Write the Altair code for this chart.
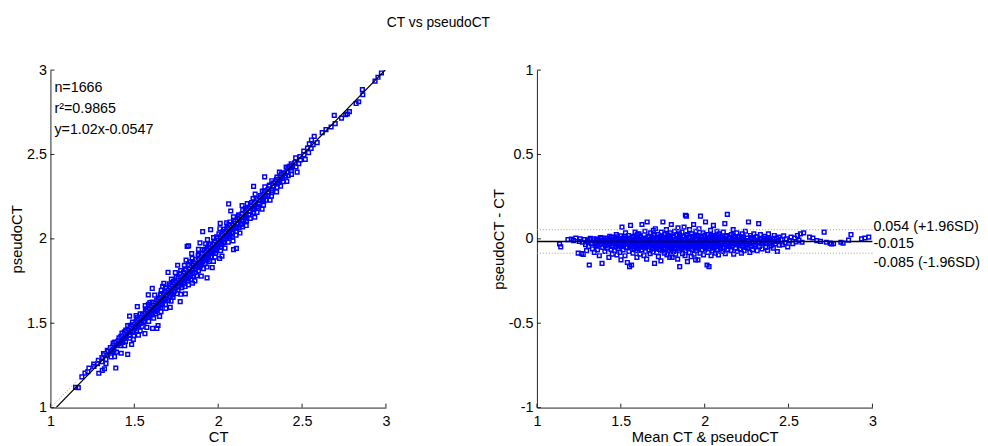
import altair as alt
import pandas as pd

# ---------------- data (Bland-Altman pairs, in thousandths) ----------------
MEAN_CT = [
    1135, 1142, 1185,
    1205, 1218, 1232, 1246,
    1252, 1258, 1265, 1271, 1276, 1283, 1290, 1296,
    1302, 1308, 1312, 1318, 1325, 1331, 1338, 1342, 1348,
    1352, 1356, 1361, 1367, 1372, 1378, 1383, 1388, 1392, 1397,
    1402, 1405, 1411, 1415, 1420, 1424, 1429, 1434, 1438, 1442, 1446, 1449,
    1451, 1454, 1458, 1462, 1466, 1469, 1473, 1477, 1481, 1485, 1488, 1492, 1495, 1498,
    1501, 1504, 1507, 1511, 1514, 1518, 1521, 1525, 1528, 1532, 1535, 1539, 1542, 1545, 1548, 1550,
    1552, 1555, 1558, 1561, 1564, 1567, 1570, 1573, 1576, 1579, 1582, 1585, 1588, 1591, 1594, 1596, 1598, 1599,
    1602, 1605, 1608, 1611, 1614, 1617, 1620, 1623, 1626, 1629, 1632, 1635, 1638, 1641, 1644, 1646, 1648, 1650,
    1651, 1654, 1657, 1660, 1663, 1666, 1669, 1672, 1675, 1678, 1681, 1684, 1687, 1690, 1692, 1694, 1696, 1697, 1698, 1699,
    1701, 1703, 1706, 1709, 1712, 1715, 1718, 1721, 1724, 1727, 1730, 1733, 1736, 1739, 1741, 1743, 1745, 1747, 1748, 1749,
    1751, 1754, 1757, 1760, 1763, 1766, 1769, 1772, 1775, 1778, 1781, 1784, 1787, 1790, 1792, 1794, 1796, 1797, 1798, 1799,
    1801, 1803, 1806, 1809, 1812, 1815, 1818, 1821, 1824, 1827, 1830, 1833, 1836, 1839, 1841, 1843, 1845, 1847, 1848, 1849,
    1851, 1853, 1856, 1859, 1862, 1865, 1868, 1871, 1874, 1877, 1880, 1883, 1885, 1887, 1889, 1891, 1893, 1895, 1897, 1899,
    1901, 1904, 1907, 1910, 1913, 1916, 1919, 1922, 1925, 1928, 1931, 1934, 1937, 1940, 1942, 1944, 1946, 1947, 1948, 1949,
    1951, 1954, 1957, 1960, 1963, 1966, 1969, 1972, 1975, 1978, 1981, 1984, 1987, 1990, 1993, 1995, 1997, 1999,
    2002, 2005, 2008, 2011, 2014, 2017, 2020, 2023, 2026, 2029, 2032, 2035, 2038, 2041, 2044, 2046, 2048, 2049,
    2052, 2055, 2058, 2061, 2064, 2067, 2070, 2073, 2076, 2079, 2082, 2085, 2088, 2092, 2095, 2098,
    2102, 2105, 2108, 2111, 2114, 2117, 2120, 2123, 2126, 2129, 2132, 2135, 2138, 2141, 2145, 2148,
    2152, 2156, 2159, 2163, 2166, 2170, 2173, 2177, 2180, 2184, 2187, 2191, 2194, 2198,
    2203, 2207, 2211, 2215, 2219, 2223, 2227, 2231, 2235, 2239, 2243, 2246, 2249,
    2253, 2257, 2261, 2265, 2269, 2273, 2277, 2281, 2285, 2289, 2293, 2297,
    2303, 2308, 2313, 2318, 2322, 2327, 2332, 2337, 2342, 2347,
    2353, 2358, 2364, 2369, 2375, 2380, 2386, 2391, 2396,
    2403, 2409, 2415, 2421, 2427, 2433, 2439, 2445,
    2455, 2463, 2471, 2479, 2487, 2495,
    2505, 2515, 2525, 2535, 2545,
    2553, 2562, 2571, 2580, 2590,
    2625, 2645, 2668, 2690,
    2712, 2725, 2748, 2755, 2768,
    2812, 2825, 2858, 2872,
    2935, 2955, 2978,
]
DIFF = [
    -30, -48, -5,
    -2, -10, 5, -85,
    -15, 0, -88, -20, -92, -5, -35, -70,
    -10, -45, -155, 3, -25, -60, -12, -80, -30,
    -40, -2, -65, -18, -100, 8, -30, -145, -50, -10,
    -20, -75, 5, -35, -55, -8, -110, 15, -28, -62, -15, -90,
    -45, 10, -22, -70, -5, -38, 25, -95, -12, -58, 0, -30, -80, 18,
    -125, -40, 70, -15, -65, 5, -28, -100, 35, -50, -8, -140, -20, 20, -75, -35,
    -165, -10, 80, -48, -155, 0, -25, -85, 15, -60, -32, 40, -5, -70, -18, -110, 28, -42,
    -20, -55, 30, -8, -90, 10, -38, -65, 85, -15, -48, 2, -100, -28, 45, -5, -75, -33,
    -12, -120, 100, -45, -22, 15, -68, -3, -88, 35, -30, -55, 8, -15, -78, 50, -40, -8, -60, 20,
    -145, -25, 60, -50, 0, -80, -18, 25, -105, -35, -62, 12, -8, -130, 40, -45, -20, -72, 5, -28,
    100, -38, -10, -85, 25, -58, -22, 55, -95, -5, -42, 18, -68, -15, -110, 35, -30, -52, 8, -78,
    85, -20, -110, -48, 10, -75, -32, 45, -8, -90, -60, 20, -25, -120, 65, -40, -2, -70, -15, 30,
    -165, -35, 15, -60, -12, 40, -88, -25, -48, 70, -5, -100, 140, -70, -18, 135, -42, 25, -135, -55,
    -28, 10, -80, 55, -45, -15, -105, 30, -62, -2, -35, 85, -90, -20, -52, 15, -125, -40, 45, -8,
    -70, 20, -30, -125, -50, 60, -12, -85, 135, -40, 0, -65, -22, 35, -95, -5, -48, 12,
    -35, 100, -60, -15, -155, 25, -80, -45, -165, 5, -28, 50, -100, -10, -55, 20, -72, -38,
    80, -20, -48, 15, -85, -5, -35, 45, -65, -12, -95, 30, -42, 0, -58, -25,
    -30, 10, -75, 40, -50, -15, 90, -88, -2, -40, 20, 145, -62, -22, 5, -45,
    -18, -70, 25, -40, -5, 55, -90, -28, 10, -55, -12, 35, -75, -35,
    -25, 15, -60, -8, -85, 30, -40, 0, -70, -18, 45, -50, -30,
    -10, -55, 100, -28, -80, 20, -40, 5, -65, -20, 30, -45,
    -35, 10, -70, -15, 90, -45, 25, -5, -60, -25,
    -20, 15, -50, -8, -68, 30, -30, 0, -42,
    -15, -55, 20, -30, 5, -75, -10, -38,
    -5, -35, 18, -22, 0, -48,
    -12, 10, -28, 5, -18,
    20, -8, 30, -20, 35,
    10, 5, -10, -15,
    40, -20, -25, -30, -28,
    -20, -25, -8, 25,
    0, 5, 10,
]
# dense core of the cloud (close to the bias line)
CORE_MEAN = [
    1302, 1315, 1327, 1339, 1351, 1360, 1369, 1378, 1386, 1394,
    1401, 1408, 1414, 1421, 1427, 1433, 1439, 1445, 1451, 1456,
    1461, 1466, 1471, 1476, 1481, 1486, 1491, 1496, 1501, 1506,
    1511, 1516, 1521, 1526, 1531, 1536, 1541, 1546, 1551, 1556,
    1561, 1566, 1571, 1576, 1581, 1586, 1591, 1596, 1601, 1606,
    1611, 1616, 1621, 1626, 1631, 1636, 1641, 1646, 1651, 1656,
    1661, 1666, 1671, 1676, 1681, 1686, 1691, 1696, 1701, 1706,
    1711, 1716, 1721, 1726, 1731, 1736, 1741, 1746, 1751, 1756,
    1761, 1766, 1771, 1776, 1781, 1786, 1791, 1796, 1801, 1806,
    1811, 1816, 1821, 1826, 1831, 1836, 1841, 1846, 1851, 1856,
    1861, 1866, 1871, 1876, 1881, 1886, 1891, 1896, 1901, 1906,
    1911, 1916, 1921, 1926, 1931, 1936, 1941, 1946, 1951, 1956,
    1961, 1966, 1971, 1976, 1981, 1986, 1991, 1996, 2001, 2006,
    2011, 2016, 2021, 2026, 2031, 2036, 2041, 2046, 2051, 2056,
    2062, 2068, 2074, 2080, 2086, 2092, 2098, 2104, 2110, 2116,
    2122, 2128, 2134, 2140, 2146, 2152, 2158, 2164, 2170, 2176,
    2183, 2190, 2197, 2204, 2211, 2218, 2225, 2232, 2239, 2246,
    2254, 2262, 2270, 2278, 2286, 2294, 2303, 2312, 2321, 2330,
    2340, 2350, 2360, 2370, 2381, 2392, 2404, 2416, 2428, 2440,
]
CORE_DIFF = [
    -18, -5, -28, 0, -22, -38, -8, -15, 5, -30,
    -12, -42, -20, 2, -33, -10, -25, 8, -40, -15,
    -3, -28, -48, -10, 12, -35, -20, -5, -45, -25,
    0, -38, -14, 15, -30, -50, -8, -22, 5, -42,
    -18, -32, 10, -5, -45, -25, -12, -55, 2, -35,
    -20, 18, -48, -8, -28, -15, -52, 5, -38, -22,
    12, -45, -10, -30, -2, -55, -18, 20, -40, -25,
    -8, -50, 8, -32, -15, -45, 15, -22, -5, -58,
    -28, 10, -40, -12, 22, -35, -50, -2, -25, -42,
    15, -18, -55, -8, -32, 25, -45, -15, 5, -38,
    -22, -52, 12, -28, -5, -45, 20, -18, -35, -58,
    8, -25, -42, 15, -10, -48, -30, 2, -20, -55,
    18, -38, -12, -28, 10, -45, -5, -32, 22, -50,
    -18, -35, 5, -25, -45, 15, -10, -38, -28, 8,
    -48, -15, 20, -32, -5, -42, 12, -22, -52, -2,
    -35, 15, -18, -45, 5, -28, -10, -40, 18, -22,
    -5, -35, 10, -15, -42, 2, -28, 12, -20, -38,
    5, -12, -30, 8, -22, -5, -35, 12, -18, 0,
    -28, 5, -12, -25, 8, -8, -20, 2, -15, 10,
]

# statistics printed on the chart
N_TEXT = "n=1666"
R2_TEXT = "r\u00b2=0.9865"
FIT_TEXT = "y=1.02x-0.0547"
FIT_SLOPE = 1.02
FIT_INTERCEPT = -0.0547
BIAS = -0.015
LIMITS = [0.054, -0.085]
LIMIT_LABELS = ["0.054 (+1.96SD)", "-0.015", "-0.085 (-1.96SD)"]

X_TICKS = [1, 1.5, 2, 2.5, 3]
Y_TICKS_L = [1, 1.5, 2, 2.5, 3]
Y_TICKS_R = [-1, -0.5, 0, 0.5, 1]

# ---------------- tables ----------------
mean = [m / 1000 for m in MEAN_CT + CORE_MEAN]
diff = [d / 1000 for d in DIFF + CORE_DIFF]
df = pd.DataFrame({
    "mean": mean,
    "diff": diff,
    "ct": [m - d / 2 for m, d in zip(mean, diff)],
    "pct": [m + d / 2 for m, d in zip(mean, diff)],
})

W, H = 340, 342
FONT = "Liberation Sans"
BLUE = "#0000ff"
AX = "#222222"
TICK_LEN = 4

lab = "'' + datum.value"


def xaxis(title):
    return alt.Axis(values=X_TICKS, title=title, labelExpr=lab, ticks=False, labelFlush=False,
                    tickSize=0, labelPadding=7, titlePadding=2, grid=False)


def yaxis(title, vals):
    return alt.Axis(values=vals, title=title, labelExpr=lab, ticks=False, labelFlush=False,
                    tickSize=0, labelPadding=4, titlePadding=2, grid=False)


xs = alt.Scale(domain=[1, 3], nice=False, zero=False)
ysl = alt.Scale(domain=[1, 3], nice=False, zero=False)
ysr = alt.Scale(domain=[-1, 1], nice=False, zero=False)

pts_style = dict(shape="square", filled=False, size=14, strokeWidth=1.5, color=BLUE, opacity=1)

# ----- left panel -----
left_pts = alt.Chart(df).mark_point(**pts_style).encode(
    x=alt.X("ct:Q", scale=xs, axis=xaxis("CT")),
    y=alt.Y("pct:Q", scale=ysl, axis=yaxis("pseudoCT", Y_TICKS_L)),
)
ident = alt.Chart(pd.DataFrame({"x": [1, 3], "y": [1, 3]})).mark_line(
    color="#999999", strokeDash=[1, 2], strokeWidth=1).encode(x="x:Q", y="y:Q")
fit_x = [1, 3]
fit_df = pd.DataFrame({"x": fit_x, "y": [FIT_SLOPE * v + FIT_INTERCEPT for v in fit_x]})
fit = alt.Chart(fit_df).mark_line(color="black", strokeWidth=1.2, clip=True).encode(x="x:Q", y="y:Q")
lx_ticks = alt.Chart(pd.DataFrame({"v": X_TICKS})).mark_rule(color=AX).encode(
    x="v:Q", y=alt.value(H), y2=alt.value(H - TICK_LEN))
ly_ticks = alt.Chart(pd.DataFrame({"v": Y_TICKS_L})).mark_rule(color=AX).encode(
    y="v:Q", x=alt.value(0), x2=alt.value(TICK_LEN))
annot = alt.Chart(pd.DataFrame({"a": [0]})).mark_text(
    align="left", baseline="alphabetic", font=FONT, fontSize=14.5, lineHeight=21.5, color="black"
).encode(x=alt.value(4), y=alt.value(22), text=alt.value([N_TEXT, R2_TEXT, FIT_TEXT]))

left = alt.layer(left_pts, ident, fit, lx_ticks, ly_ticks, annot).properties(width=W, height=H)

# ----- right panel -----
right_pts = alt.Chart(df).mark_point(**pts_style).encode(
    x=alt.X("mean:Q", scale=xs, axis=xaxis("Mean CT & pseudoCT")),
    y=alt.Y("diff:Q", scale=ysr, axis=yaxis("pseudoCT - CT", Y_TICKS_R)),
)
bias_line = alt.Chart(pd.DataFrame({"v": [BIAS]})).mark_rule(color="black", strokeWidth=1.5).encode(
    y="v:Q", x=alt.value(0), x2=alt.value(W))
lim_lines = alt.Chart(pd.DataFrame({"v": LIMITS})).mark_rule(
    color="#999999", strokeDash=[1, 2], strokeWidth=1).encode(
    y="v:Q", x=alt.value(0), x2=alt.value(W))
rx_ticks = alt.Chart(pd.DataFrame({"v": X_TICKS})).mark_rule(color=AX).encode(
    x="v:Q", y=alt.value(H), y2=alt.value(H - TICK_LEN))
ry_ticks = alt.Chart(pd.DataFrame({"v": Y_TICKS_R})).mark_rule(color=AX).encode(
    y="v:Q", x=alt.value(0), x2=alt.value(TICK_LEN))

label_vals = [LIMITS[0], BIAS, LIMITS[1]]
label_dy = [-3, 3, 9.5]
lim_texts = []
for v, t, dy in zip(label_vals, LIMIT_LABELS, label_dy):
    lim_texts.append(
        alt.Chart(pd.DataFrame({"v": [v], "t": [t]})).mark_text(
            align="left", baseline="middle", font=FONT, fontSize=14.5, dy=dy, color="black"
        ).encode(x=alt.value(W + 1), y="v:Q", text="t:N")
    )

right = alt.layer(right_pts, lim_lines, bias_line, rx_ticks, ry_ticks, *lim_texts).properties(width=W, height=H)

chart = alt.hconcat(left, right, spacing=102).properties(
    title=alt.TitleParams("CT vs pseudoCT", font=FONT, fontSize=14, fontWeight="normal",
                          anchor="start", dx=382, offset=33, color="black"),
    padding={"left": 1, "top": 5, "right": 0, "bottom": 0},
).configure_view(stroke=None).configure_axis(
    domainColor=AX, domainWidth=1, labelFont=FONT, labelFontSize=14.5, labelColor="black",
    titleFont=FONT, titleFontSize=15, titleFontWeight="normal", titleColor="black",
)

chart.save("out.html", embed_options={"renderer": "svg", "actions": False})
